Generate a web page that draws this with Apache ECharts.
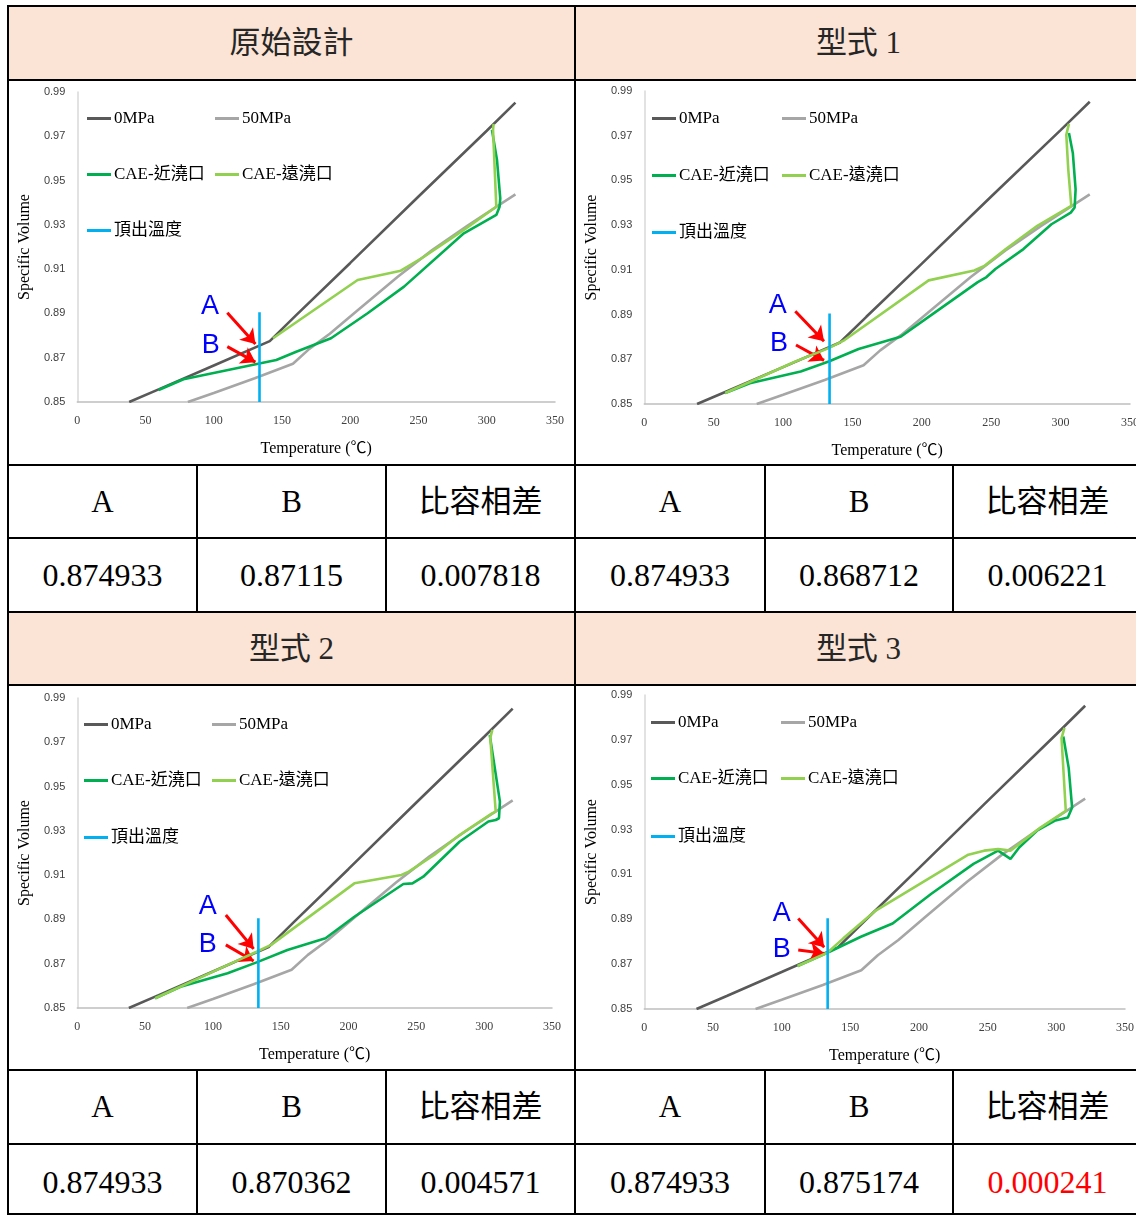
<!DOCTYPE html>
<html>
<head>
<meta charset="utf-8">
<script src="https://cdn.jsdelivr.net/npm/echarts@6/dist/echarts.min.js"></script>
<style>
html, body { margin: 0; padding: 0; background: #fff; overflow: hidden; }
#page { position: relative; width: 1136px; height: 1215px; overflow: hidden; }
.ln { position: absolute; background: #000; }
.bg { position: absolute; background: #fbe4d5; }
.tx { position: absolute; text-align: center; font-family: "Liberation Serif", "Noto Sans CJK TC", serif; color: #000; white-space: nowrap; }
.ch { position: absolute; }
</style>
</head>
<body>
<div id="page"></div>
<script>
// 表格文字
const designNames = ['原始設計', '型式 1', '型式 2', '型式 3'];
const colHeads = ['A', 'B', '比容相差'];
const valA = ['0.874933', '0.874933', '0.874933', '0.874933'];
const valB = ['0.87115', '0.868712', '0.870362', '0.875174'];
const valDiff = ['0.007818', '0.006221', '0.004571', '0.000241'];

// 軸
const xMin = 0, xMax = 350, xStep = 50;
const yMin = 0.85, yMax = 0.99, yStep = 0.02;

const seriesNames = ['0MPa', '50MPa', 'CAE-近澆口', 'CAE-遠澆口', '頂出溫度'];

// PVT 曲線 [溫度, 比容]
const mpa0 = [[38, 0.85], [60, 0.8558], [100, 0.8665], [141, 0.8775], [160, 0.889], [200, 0.9128],
  [250, 0.9428], [300, 0.9725], [321, 0.9852]];
const mpa50 = [[81, 0.85], [100, 0.8541], [130, 0.8607], [158, 0.8673], [170, 0.874], [185, 0.8808],
  [205, 0.8912], [235, 0.9067], [260, 0.9186], [286, 0.9297], [321, 0.9438]];
const eject = [[133.5, 0.85], [133.5, 0.8905]];

// 近澆口
const near0 = [[303.8, 0.9729], [307.5, 0.9593], [309.9, 0.942], [309.4, 0.9382], [307, 0.9345], [283.2, 0.9262],
  [239.4, 0.9021], [212.7, 0.8901], [185.9, 0.8788], [160.4, 0.8727], [145.8, 0.869], [132.5, 0.8673],
  [77.8, 0.8603], [59.6, 0.8554]];
const near1 = [[306, 0.9712], [308.8, 0.9623], [310.8, 0.946], [310.1, 0.9379], [307.3, 0.9356], [293.4, 0.9304],
  [273.2, 0.9193], [253, 0.9104], [246.6, 0.9068], [240.3, 0.9045], [210, 0.8912], [184.7, 0.8801],
  [154.4, 0.8746], [132.9, 0.869], [112.7, 0.8645], [76, 0.8593], [58.3, 0.8549]];
const near2 = [[304.1, 0.9733], [311.6, 0.9432], [310.9, 0.9357], [308.5, 0.9349], [303.1, 0.9342], [281.8, 0.9251],
  [255.1, 0.9093], [247.1, 0.9063], [240.4, 0.906], [204.3, 0.8912], [183, 0.8815], [154.9, 0.8762],
  [132.2, 0.8706], [110.8, 0.8657], [76.1, 0.8596], [57.4, 0.8544]];
const near3 = [[305.1, 0.9715], [309, 0.9575], [311.5, 0.9398], [308.4, 0.9354], [298.7, 0.9339], [285.9, 0.9295],
  [273.1, 0.9221], [266.6, 0.9169], [257.6, 0.9206], [239.7, 0.9147], [209, 0.9014], [180.8, 0.8881],
  [157.7, 0.8822], [133.3, 0.8751], [111.6, 0.8692]];

// 遠澆口
const far0 = [[305, 0.9756], [304.6, 0.9729], [307, 0.9382], [306.3, 0.9375], [283.2, 0.9277], [254, 0.9156],
  [237, 0.9093], [205.4, 0.9051], [143.4, 0.8788]];
const far1 = [[306, 0.9753], [304.1, 0.9704], [305.5, 0.955], [307.7, 0.9386], [307.3, 0.9379], [283.2, 0.9297],
  [260.5, 0.9193], [245.4, 0.9119], [237.8, 0.9097], [204.9, 0.9053], [144.3, 0.8786], [132.9, 0.875],
  [108.9, 0.869], [58.3, 0.8549]];
const far2 = [[306, 0.9756], [304.5, 0.972], [308.5, 0.9387], [305.8, 0.9379], [281.8, 0.9281], [263.1, 0.9191],
  [244.4, 0.9116], [239, 0.9101], [204.3, 0.9063], [142.9, 0.8785], [132.2, 0.8754], [108.2, 0.8687],
  [57.4, 0.8544]];
const far3 = [[305.9, 0.9753], [303.8, 0.9708], [306.9, 0.9383], [288.4, 0.9309], [266.6, 0.9206], [257.6, 0.9213],
  [247.4, 0.9206], [235.9, 0.9188], [167.9, 0.8936], [144.9, 0.8815], [133.3, 0.8751], [111.6, 0.8692]];

const nearCurves = [near0, near1, near2, near3];
const farCurves = [far0, far1, far2, far3];

// A/B 標註 (資料座標)
const labelA = [[97.2, 0.893], [96.2, 0.8941], [96.1, 0.8958], [100, 0.8925]];
const labelB = [[97.7, 0.8757], [97, 0.8771], [96.1, 0.8785], [100, 0.8763]];
const arrowA = [[[109.9, 0.8903], [130.5, 0.8762]], [[108.8, 0.8915], [129.5, 0.8781]],
  [[109.5, 0.892], [130, 0.8767]], [[112.1, 0.8903], [131, 0.8775]]];
const arrowB = [[[109.9, 0.875], [130.5, 0.868]], [[109.3, 0.8764], [129.5, 0.8695]],
  [[109.5, 0.8785], [130, 0.8712]], [[112.1, 0.8763], [131, 0.8748]]];

const colors = ['#595959', '#a6a6a6', '#00b050', '#92d050', '#00b0f0'];

// ---------- 表格 ----------
const page = document.getElementById('page');
function box(cls, l, t, w, h, html, extra) {
  const d = document.createElement('div');
  d.className = cls;
  d.style.left = l + 'px'; d.style.top = t + 'px';
  d.style.width = w + 'px'; d.style.height = h + 'px';
  if (html !== undefined) { d.innerHTML = html; d.style.lineHeight = h + 'px'; }
  if (extra) Object.assign(d.style, extra);
  page.appendChild(d);
  return d;
}

const halves = [[8, 575, 197, 386], [575, 1142, 765, 953]];
const blocks = [
  { head: 6, chart: 80, th: 465, val: 538, end: 612 },
  { head: 612, chart: 685, th: 1070, val: 1144, end: 1220 }
];
const chartDivs = [];

blocks.forEach((b, bi) => {
  box('bg', 8, b.head, 1140, b.chart - b.head);
  halves.forEach((h, hi) => {
    const k = bi * 2 + hi;
    const cols = [h[0], h[2], h[3], h[1]];
    box('tx', h[0], b.head, h[1] - h[0], b.chart - b.head, designNames[k],
      { fontSize: '31px', color: '#262626' });
    for (let c = 0; c < 3; c++) {
      box('tx', cols[c], b.th, cols[c + 1] - cols[c], b.val - b.th, colHeads[c], { fontSize: '31px' });
      const v = [valA[k], valB[k], valDiff[k]][c];
      const red = (k === 3 && c === 2);
      box('tx', cols[c], b.val, cols[c + 1] - cols[c], b.end - b.val, v,
        { fontSize: '32px', color: red ? '#ff0000' : '#000' });
    }
    chartDivs.push(box('ch', h[0] + 1, b.chart + 1, 570 - (hi === 0 ? 5 : 0), b.th - b.chart - 2));
  });
  // 線
  [b.head, b.chart, b.th, b.val].forEach(y => box('ln', 7, y - 1, 1140, 2));
  [197, 386, 765, 953].forEach(x => box('ln', x - 1, b.th, 2, b.end - b.th));
});
box('ln', 7, 1213, 1140, 2);
box('ln', 7, 5, 2, 1215);
box('ln', 574, 5, 2, 1215);

// ---------- 圖 ----------
const grids = [
  { left: 66, right: 19, top: 11, bottom: 62 },
  { left: 63, right: 16, top: 10, bottom: 58 },
  { left: 62, right: 22, top: 12, bottom: 61 },
  { left: 62, right: 21, top: 9, bottom: 58 }
];
const legendPos = [
  { x1: 78, x2: 206, rows: [29, 85, 141] },
  { x1: 76, x2: 206, rows: [29, 86, 143] },
  { x1: 75, x2: 203, rows: [30, 86, 143] },
  { x1: 75, x2: 205, rows: [28, 84, 142] }
];
const serif = '"Liberation Serif", "Noto Sans CJK TC", serif';

function buildOption(i) {
  const lp = legendPos[i];
  const slots = [[lp.x1, lp.rows[0]], [lp.x2, lp.rows[0]], [lp.x1, lp.rows[1]], [lp.x2, lp.rows[1]], [lp.x1, lp.rows[2]]];
  const legends = seriesNames.map((n, j) => ({
    data: [n], left: slots[j][0], top: slots[j][1], icon: 'rect', itemWidth: 24, itemHeight: 3,
    itemGap: 0, selectedMode: false, padding: 0,
    textStyle: { fontFamily: serif, fontSize: 17, color: '#000', padding: [0, 0, 0, -2] }
  }));
  const curves = [mpa0, mpa50, nearCurves[i], farCurves[i], eject];
  const series = curves.map((d, j) => ({
    name: seriesNames[j], type: 'line', data: d, showSymbol: false, symbol: 'none',
    lineStyle: { color: colors[j], width: 2.6 }, itemStyle: { color: colors[j] },
    emphasis: { disabled: true }, silent: true, z: 2 + j
  }));
  series[4].markLine = {
    silent: true, symbol: ['none', 'arrow'], symbolSize: 14,
    lineStyle: { color: '#ff0000', width: 3, type: 'solid' }, label: { show: false },
    emphasis: { disabled: true },
    data: [arrowA[i], arrowB[i]].map(a => [{ coord: a[0] }, { coord: a[1] }])
  };
  series[4].markPoint = {
    silent: true, symbol: 'circle', symbolSize: 1, itemStyle: { color: 'rgba(0,0,0,0)' },
    label: { show: true, position: 'inside', formatter: p => p.name, color: '#0000ff', fontSize: 27,
      fontFamily: '"Liberation Sans", Arial, sans-serif' },
    data: [{ name: 'A', coord: labelA[i] }, { name: 'B', coord: labelB[i] }]
  };
  return {
    animation: false,
    backgroundColor: '#fff',
    grid: grids[i],
    legend: legends,
    xAxis: {
      type: 'value', min: xMin, max: xMax, interval: xStep,
      name: 'Temperature (℃)', nameLocation: 'middle', nameGap: 39,
      nameTextStyle: { fontFamily: serif, fontSize: 16, color: '#000' },
      axisLine: { show: true, lineStyle: { color: '#bfbfbf', width: 1.5 } },
      axisTick: { show: false }, splitLine: { show: false },
      axisLabel: { fontFamily: serif, fontSize: 12, color: '#404040', margin: 13 }
    },
    yAxis: {
      type: 'value', min: yMin, max: yMax, interval: yStep,
      name: 'Specific Volume', nameLocation: 'middle', nameGap: 42,
      nameTextStyle: { fontFamily: serif, fontSize: 16, color: '#000' },
      axisLine: { show: true, lineStyle: { color: '#d9d9d9', width: 1.5 } },
      axisTick: { show: false }, splitLine: { show: false },
      axisLabel: { fontFamily: '"Liberation Sans", sans-serif', fontSize: 11, color: '#404040', margin: 12,
        formatter: v => v.toFixed(2) }
    },
    series: series
  };
}

chartDivs.forEach((el, i) => {
  const chart = echarts.init(el, null, { renderer: 'canvas' });
  chart.setOption(buildOption(i));
});
</script>
</body>
</html>
